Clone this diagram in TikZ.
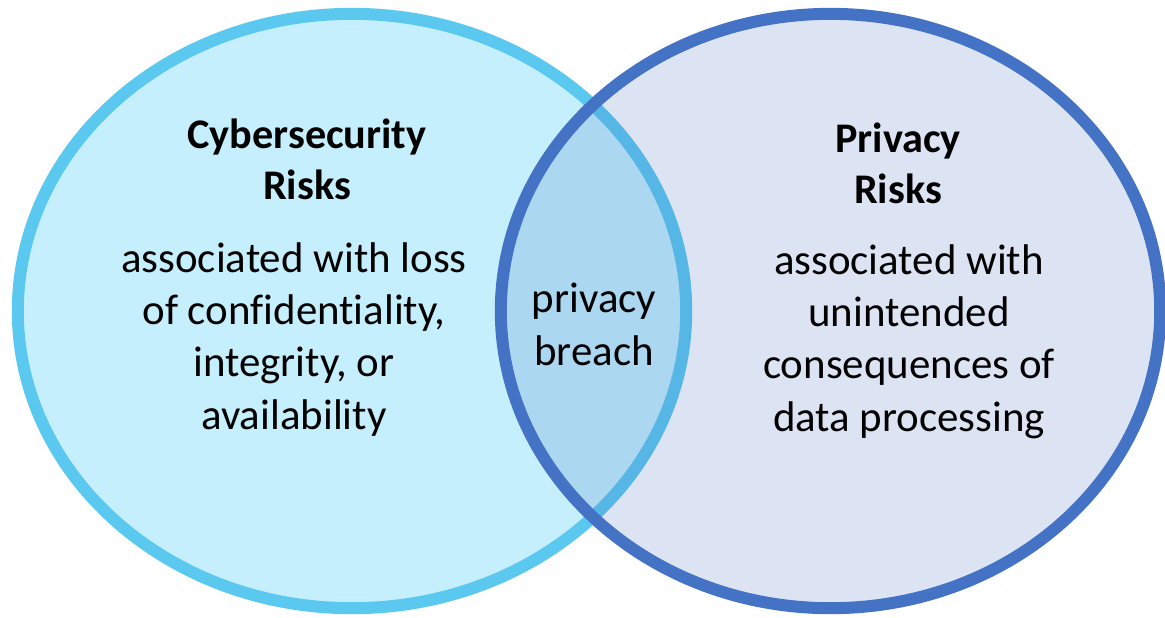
\documentclass[tikz,border=0pt]{standalone}
\usepackage{fontspec}
\setmainfont{Carlito}[Ligatures={NoCommon}]
\usetikzlibrary{positioning}

\definecolor{cyberline}{RGB}{91,200,240}
\definecolor{cyberfill}{RGB}{197,239,252}
\definecolor{privline}{RGB}{68,114,196}

\begin{document}
\begin{tikzpicture}[
      x=0.01cm, y=-0.01cm,
      set/.style={line width=0.12cm},
      title/.style={align=center, inner sep=0pt, anchor=base, font=\fontsize{12}{14.5}\selectfont\bfseries},
      body/.style={align=center, inner sep=0pt, anchor=base, font=\fontsize{12.2}{14.8}\selectfont}
    ]
      \useasboundingbox (0,0) rectangle (1165,617);
      % the two sets
      \draw[set, draw=cyberline, fill=cyberfill] (352,311) ellipse [x radius=3.34cm, y radius=2.97cm];
      \draw[set, draw=privline, fill=privline, fill opacity=0.19] (830.5,311) ellipse [x radius=3.295cm, y radius=2.97cm];
      % texts (base = last line)
      \node[title] (cybertitle) at (307,199) {Cybersecurity\\Risks};
      \node[body] (cyberbody) at (294,429) {associated with loss\\of confidentiality,\\integrity, or\\availability};
      \node[title] (privtitle) at (898,203) {Privacy\\Risks};
      \node[body] (privbody) at (909,431) {associated with\\unintended\\consequences of\\data processing};
      \node[body] (breach) at (594,365) {privacy\\breach};
    \end{tikzpicture}
\end{document}
